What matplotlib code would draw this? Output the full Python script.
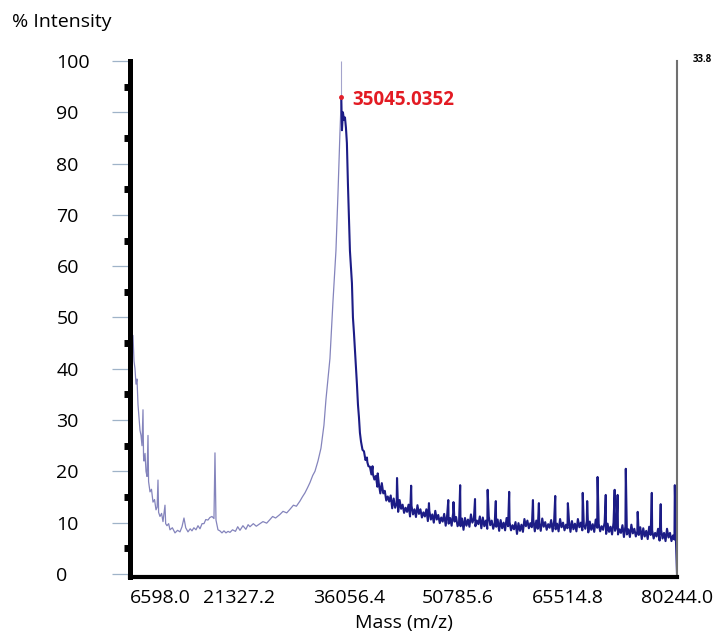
import numpy as np
import matplotlib
matplotlib.use("Agg")
import matplotlib.pyplot as plt

plt.rcParams["font.family"] = ["Open Sans", "DejaVu Sans"]

# spectrum, low-mass side up to the apex (mass in Da, intensity in %)
low_mass = [6598, 6700, 6867, 7000, 7136, 7270, 7406, 7540, 7675, 7810,
            7944, 8080, 8213, 8348, 8420, 8482, 8620, 8752, 8890, 9021,
            9100, 9290, 9490, 9694, 9900, 10098, 10250, 10367, 10450, 10636,
            10850, 11040, 11309, 11400, 11578, 11800, 11982, 12300, 12655, 13000,
            13328, 13600, 13866, 14100, 14405, 14700, 14943, 15200, 15482, 15750,
            16020, 16300, 16558, 16800, 17097, 17350, 17635, 17904, 18039, 18174,
            18443, 18700, 18981, 19250, 19520, 19800, 20058, 20400, 20800, 21100,
            21404, 21800, 22200, 22500, 22750, 23200, 23600, 24096, 24500, 25000,
            25442, 25800, 26200, 26788, 27200, 27700, 28134, 28600, 29000, 29480,
            29800, 30153, 30500, 30826, 31200, 31499, 31903, 32307, 32710, 32980,
            33249, 33518, 33921, 34325, 34595, 34864]
low_int = [52.0, 47.5, 45.0, 46.5, 41.5, 40.0, 37.0, 38.0, 33.0, 30.5,
           28.0, 27.0, 25.0, 32.0, 23.0, 22.0, 23.5, 20.0, 19.0, 27.0,
           18.0, 16.0, 16.5, 14.0, 14.5, 12.5, 13.0, 18.3, 12.0, 11.2,
           11.8, 10.2, 13.4, 9.8, 9.4, 9.8, 8.6, 9.0, 8.0, 8.5,
           8.2, 9.2, 10.9, 9.0, 8.2, 8.8, 8.4, 9.0, 8.6, 9.4,
           8.8, 9.8, 9.8, 10.6, 10.5, 11.0, 11.2, 10.8, 23.6, 10.5,
           8.6, 8.4, 8.0, 8.4, 8.0, 8.3, 8.1, 8.6, 8.3, 9.2,
           8.5, 9.4, 8.7, 9.6, 9.2, 9.8, 9.3, 9.8, 10.2, 9.9,
           10.6, 11.2, 10.9, 11.6, 12.2, 11.9, 12.6, 13.4, 13.2, 14.2,
           15.0, 15.8, 16.8, 17.8, 19.2, 20.0, 22.0, 24.5, 29.0, 34.0,
           38.0, 42.0, 53.0, 63.0, 74.0, 86.0]

peak_mass = 35045.0352
peak_int = 93.0

# high-mass flank of the main peak
flank_mass = [35133, 35267, 35402, 35540, 35671, 35800, 35940, 36080, 36209,
              36478, 36613, 36750, 36882, 37017, 37151, 37290, 37420, 37554]
flank_int = [86.5, 90.0, 88.5, 89.0, 87.0, 84.0, 76.0, 69.0, 63.0,
             56.7, 50.0, 47.0, 43.7, 40.0, 37.0, 33.0, 30.6, 27.5]

# tail sampled every 200 Da from 37700 Da
tail_start = 37700
tail_step = 200
tail_int = [25.8, 24.2, 23.9, 22.2, 22.7, 21.0, 20.9, 19.4, 19.5, 18.4,
            19.1, 17.0, 17.6, 15.7, 17.7, 15.7, 16.2, 14.3, 15.1, 14.1,
            15.3, 12.8, 14.7, 12.9, 13.8, 12.1, 14.4, 12.7, 13.5, 11.9,
            12.9, 12.1, 13.5, 11.2, 13.3, 11.6, 12.6, 11.1, 13.4, 11.7,
            12.6, 11.0, 12.0, 11.2, 12.6, 10.3, 12.3, 10.6, 11.6, 10.0,
            12.3, 10.6, 11.5, 9.9, 11.0, 10.2, 11.7, 9.4, 11.5, 9.8,
            10.9, 9.4, 11.8, 10.2, 11.1, 9.3, 10.0, 9.3, 10.8, 8.6,
            10.9, 9.4, 10.6, 9.2, 11.6, 10.0, 10.8, 9.3, 10.4, 9.7,
            11.2, 8.9, 11.0, 9.3, 10.4, 8.8, 11.2, 9.5, 10.4, 8.8,
            9.9, 9.2, 10.6, 8.4, 10.5, 8.9, 10.0, 8.5, 10.9, 9.3,
            10.1, 8.5, 9.5, 8.7, 10.1, 7.8, 9.9, 8.4, 9.6, 8.2,
            10.7, 9.3, 10.4, 8.9, 9.9, 9.1, 10.6, 8.3, 10.4, 8.8,
            9.9, 8.4, 10.8, 9.2, 10.1, 8.6, 9.7, 9.0, 10.5, 8.3,
            10.3, 8.7, 9.8, 8.3, 10.7, 9.1, 10.0, 8.5, 9.6, 8.9,
            10.4, 8.2, 10.3, 8.7, 9.8, 8.3, 10.7, 9.1, 10.0, 8.5,
            9.5, 8.8, 10.3, 8.1, 10.2, 8.6, 9.7, 8.2, 10.6, 9.0,
            9.8, 8.3, 9.3, 8.6, 10.0, 7.8, 9.8, 8.2, 9.2, 7.7,
            10.0, 8.4, 9.2, 7.7, 8.7, 8.0, 9.5, 7.2, 9.3, 7.7,
            8.7, 7.2, 9.6, 7.9, 8.8, 7.3, 8.3, 7.6, 9.1, 6.8,
            8.9, 7.3, 8.4, 6.8, 9.2, 7.6, 8.5, 6.9, 8.0, 7.3,
            8.8, 6.5, 8.6, 6.9, 8.0, 6.4, 8.8, 7.1, 8.0, 6.4,
            7.5, 6.7]

# isolated spikes on the tail
spike_mass = [38550, 39250, 39950, 42550, 44450, 46850, 49450, 50150, 51050, 53050,
              54750, 55850, 57650, 60850, 61650, 63850, 65550, 67550, 68150, 69550,
              70650, 71850, 72250, 73350, 74950, 76850, 78050, 79950]
spike_int = [21.8, 21.0, 19.6, 18.7, 17.2, 13.8, 14.4, 14.0, 17.3, 14.6,
             16.4, 14.2, 16.0, 14.4, 13.8, 15.2, 13.8, 15.8, 14.2, 18.9,
             15.4, 16.4, 15.4, 20.5, 12.1, 15.8, 13.6, 17.3]

end_mass = [80100, 80200, 80244]
end_int = [6.5, 1.5, 0.0]

y_ticks = [0, 10, 20, 30, 40, 50, 60, 70, 80, 90, 100]
x_ticks = [6598.0, 21327.2, 36056.4, 50785.6, 65514.8, 80244.0]
x_labels = ["6598.0", "21327.2", "36056.4", "50785.6", "65514.8", "80244.0"]

tail_mass = tail_start + tail_step * np.arange(len(tail_int))
hi_mass = np.concatenate([[peak_mass], flank_mass, tail_mass, spike_mass, end_mass])
hi_int = np.concatenate([[peak_int], flank_int, tail_int, spike_int, end_int])
order = np.argsort(hi_mass)
hi_mass, hi_int = hi_mass[order], hi_int[order]

fig = plt.figure(figsize=(7.15, 6.39), dpi=100)
ax = fig.add_axes([130 / 715, 62 / 639, 547 / 715, 516 / 639])

ax.plot(low_mass + [peak_mass], low_int + [peak_int], color="#8484bc", lw=0.9)
ax.plot(hi_mass, hi_int, color="#1c1c86", lw=1.5)
ax.vlines(peak_mass, peak_int, 100, color="#a4a4cc", lw=0.8)
ax.plot(peak_mass, peak_int, "o", ms=2.5, color="#e3202a")
ax.annotate("35045.0352", xy=(peak_mass, peak_int), xytext=(8, -2),
            textcoords="offset points", color="#e31b23", fontweight="bold",
            fontsize=13.5, ha="left", va="center")

ax.set_xlim(6598, 80244)
ax.set_ylim(-0.6, 100)

ax.spines["top"].set_visible(False)
ax.spines["left"].set_linewidth(3.6)
ax.spines["bottom"].set_linewidth(3.0)
ax.spines["left"].set_color("black")
ax.spines["bottom"].set_color("black")
ax.spines["right"].set_linewidth(1.5)
ax.spines["right"].set_color("#707070")

ax.set_yticks(y_ticks)
ax.set_yticks(np.array(y_ticks[:-1]) + 5, minor=True)
ax.tick_params(axis="y", which="major", length=13, width=0.9, color="#9fb3c8",
               labelsize=14, pad=40)
ax.tick_params(axis="y", which="minor", length=4, width=5, color="black")
for lab in ax.get_yticklabels():
    lab.set_ha("left")

ax.set_xticks(x_ticks, labels=x_labels)
ax.tick_params(axis="x", length=0, labelsize=14, pad=8.5)
ax.get_xticklabels()[0].set_ha("left")

ax.set_xlabel("Mass (m/z)", fontsize=14, labelpad=5)
fig.text(12 / 715, 1 - 22 / 639, "% Intensity", fontsize=14, ha="left", va="center")
fig.text(693 / 715, 1 - 60 / 639, "33.8", fontsize=7, fontweight="bold", va="center")

fig.savefig("out.png", dpi=100)
